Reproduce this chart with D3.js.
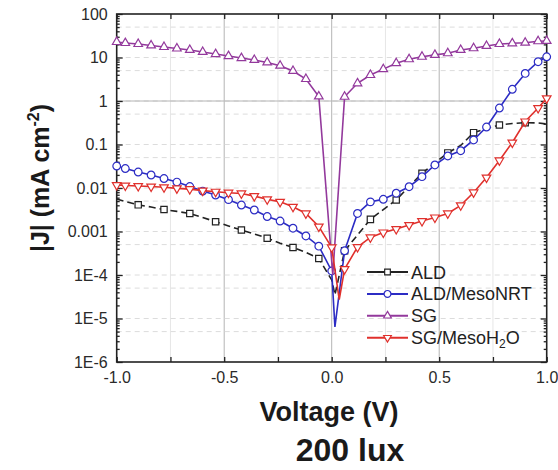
<!DOCTYPE html>
<html>
<head>
<meta charset="utf-8">
<script src="https://cdn.jsdelivr.net/npm/d3@7"></script>
<style>
  body { margin: 0; background: #fff; }
  svg { display: block; font-family: "Liberation Sans", Arial, sans-serif; }
</style>
</head>
<body>
<div id="chart"></div>
<script>
// voltage grid (V) shared by the four curves
const volts = [-1.0, -0.96, -0.90, -0.84, -0.78, -0.72, -0.66, -0.60, -0.54, -0.48, -0.42, -0.36,
  -0.30, -0.24, -0.18, -0.12, -0.06, 0, 0.06, 0.12, 0.18, 0.24, 0.30, 0.36, 0.42, 0.48, 0.54,
  0.60, 0.66, 0.72, 0.78, 0.84, 0.90, 0.96, 1.0];

// |J| in mA cm-2
const aldJ = [5.6e-3, 4.9e-3, 4.1e-3, 3.65e-3, 3.2e-3, 2.9e-3, 2.6e-3, 2.1e-3, 1.68e-3, 1.34e-3, 1.08e-3, 8.8e-4,
  7.0e-4, 5.4e-4, 4.3e-4, 3.3e-4, 2.4e-4, 7.7e-5, 3.6e-4, 8.3e-4, 1.9e-3, 3.2e-3, 5.3e-3, 0.0108, 0.0218, 0.0376, 0.064,
  0.095, 0.187, 0.233, 0.28, 0.304, 0.317, 0.312, 0.296];
const aldNrtJ = [0.032, 0.028, 0.0233, 0.0199, 0.0165, 0.0137, 0.0108, 0.0085, 0.0069, 0.0054, 0.00406, 0.00312,
  0.00221, 0.00174, 0.00119, 7.9e-4, 4.6e-4, 1.24e-4, 3.6e-4, 0.0026, 0.0048, 0.0055, 0.0076, 0.0107, 0.0182, 0.0338, 0.0545,
  0.072, 0.127, 0.252, 0.69, 1.86, 4.3, 8.0, 10.4];
const sgJ = [22.7, 21.5, 20.4, 18.9, 17.4, 16.1, 14.9, 13.4, 12.0, 10.8, 9.7, 8.8,
  7.7, 6.5, 4.9, 3.2, 1.27, null, 1.25, 2.55, 3.96, 5.4, 7.4, 9.1, 10.4, 11.5, 12.5,
  14.9, 16.3, 18.4, 20.4, 21.2, 21.9, 23.6, 24.0];
const sgH2oJ = [0.0117, 0.0114, 0.0111, 0.0108, 0.0104, 0.0098, 0.0094, 0.0087, 0.0082, 0.0078, 0.0075, 0.0065,
  0.0055, 0.0048, 0.0037, 0.0026, 0.0013, 4.3e-4, 1.37e-4, 4.4e-4, 7.3e-4, 9.5e-4, 0.00114, 0.00141, 0.00174, 0.0021, 0.0026,
  0.0040, 0.0079, 0.0174, 0.043, 0.111, 0.338, 0.69, 1.15];

// points at the bottom of each dip (in the line, no marker)
const aldTip = [[0.015, 3.5e-5]];
const aldNrtTip = [[0.015, 6.4e-6]];
const sgTip = [[0.005, 1.0e-4]];
const sgH2oTip = [[0.035, 2.7e-5]];

const seriesNames = ['ALD', 'ALD/MesoNRT', 'SG', 'SG/MesoH2O'];
const xTicks = [-1, -0.75, -0.5, -0.25, 0, 0.25, 0.5, 0.75, 1];
const xTickLabels = ['-1.0', '', '-0.5', '', '0.0', '', '0.5', '', '1.0'];
const yTicks = [1e-6, 1e-5, 1e-4, 1e-3, 1e-2, 0.1, 1, 10, 100];
const yTickLabels = ['1E-6', '1E-5', '1E-4', '0.001', '0.01', '0.1', '1', '10', '100'];

const width = 558;
const height = 470;
const plotL = 116.7, plotR = 546.7, plotT = 14, plotB = 362;

const svg = d3.select('#chart').append('svg')
  .attr('width', width)
  .attr('height', height);

const x = d3.scaleLinear().domain([-1, 1]).range([plotL, plotR]);
const y = d3.scaleLog().domain([1e-6, 100]).range([plotB, plotT]);

// grid
const gridG = svg.append('g').attr('class', 'grid');
[-0.75, -0.25, 0.25, 0.75].forEach((v) => {
  gridG.append('line').attr('x1', x(v)).attr('x2', x(v)).attr('y1', plotT).attr('y2', plotB)
    .attr('stroke', '#e6e6e6').attr('stroke-width', 1);
});
[-0.5, 0, 0.5].forEach((v) => {
  gridG.append('line').attr('x1', x(v)).attr('x2', x(v)).attr('y1', plotT).attr('y2', plotB)
    .attr('stroke', '#b4b4b4').attr('stroke-width', 1);
});
yTicks.forEach((t) => {
  [t, t / 2].forEach((v) => {
    if (v <= 1e-6 || v >= 100) return;
    gridG.append('line').attr('x1', plotL).attr('x2', plotR).attr('y1', y(v)).attr('y2', y(v))
      .attr('stroke', '#dcdcdc').attr('stroke-width', 1).attr('stroke-dasharray', '5,4');
  });
});
gridG.append('line').attr('x1', plotL).attr('x2', plotR).attr('y1', y(1)).attr('y2', y(1))
  .attr('stroke', '#b4b4b4').attr('stroke-width', 1);

// axes
const fmtX = (d) => xTickLabels[xTicks.indexOf(d)];
const fmtY = (d) => yTickLabels[yTicks.indexOf(d)];
const minor = [];
yTicks.slice(0, -1).forEach((t) => { [2, 3, 4, 5, 6, 7, 8, 9].forEach((m) => minor.push(t * m)); });

const styleAxis = (g) => {
  g.select('.domain').remove();
  g.selectAll('.tick line').attr('stroke', '#222').attr('stroke-width', 1.3);
  g.selectAll('.tick text').attr('fill', '#2a2a2a').attr('font-size', 16);
};

svg.append('g').attr('transform', `translate(0,${plotB})`)
  .call(d3.axisBottom(x).tickValues(xTicks).tickSize(-5).tickPadding(10).tickFormat(fmtX))
  .call(styleAxis);
svg.append('g').attr('transform', `translate(0,${plotT})`)
  .call(d3.axisTop(x).tickValues(xTicks).tickSize(-5).tickFormat(''))
  .call(styleAxis);
svg.append('g').attr('transform', `translate(${plotL},0)`)
  .call(d3.axisLeft(y).tickValues(yTicks).tickSize(-6).tickPadding(9).tickFormat(fmtY))
  .call(styleAxis);
svg.append('g').attr('transform', `translate(${plotL},0)`)
  .call(d3.axisLeft(y).tickValues(minor).tickSize(-3).tickFormat(''))
  .call(styleAxis);
svg.append('g').attr('transform', `translate(${plotR},0)`)
  .call(d3.axisRight(y).tickValues(yTicks).tickSize(-6).tickFormat(''))
  .call(styleAxis);
svg.append('g').attr('transform', `translate(${plotR},0)`)
  .call(d3.axisRight(y).tickValues(minor).tickSize(-3).tickFormat(''))
  .call(styleAxis);

svg.append('rect')
  .attr('x', plotL).attr('y', plotT).attr('width', plotR - plotL).attr('height', plotB - plotT)
  .attr('fill', 'none').attr('stroke', '#222').attr('stroke-width', 1.6);

// curves
const series = [
  { name: seriesNames[0], j: aldJ, tip: aldTip, color: '#222222', dash: '7,4', symbol: d3.symbolSquare, size: 40, rot: 0, every: 2 },
  { name: seriesNames[1], j: aldNrtJ, tip: aldNrtTip, color: '#2c2cc4', dash: null, symbol: d3.symbolCircle, size: 46, rot: 0, every: 1 },
  { name: seriesNames[2], j: sgJ, tip: sgTip, color: '#93399c', dash: null, symbol: d3.symbolTriangle, size: 32, rot: 0, every: 1 },
  { name: seriesNames[3], j: sgH2oJ, tip: sgH2oTip, color: '#e0302c', dash: null, symbol: d3.symbolTriangle, size: 32, rot: 180, every: 1 }
];

const line = d3.line().x((d) => x(d.v)).y((d) => y(d.j));

series.forEach((s) => {
  const onGrid = volts.map((v, i) => ({ v: v, j: s.j[i], i: i })).filter((d) => d.j != null);
  const pts = onGrid.concat(s.tip.map((t) => ({ v: t[0], j: t[1], i: -1 })))
    .sort((a, b) => a.v - b.v);
  const g = svg.append('g').attr('class', 'series');
  g.append('path')
    .attr('d', line(pts))
    .attr('fill', 'none')
    .attr('stroke', s.color)
    .attr('stroke-width', 1.6)
    .attr('stroke-dasharray', s.dash);
  const marks = onGrid.filter((d) => s.every === 1 || (d.i % 2 === 0 && d.i > 0 && d.i < volts.length - 1));
  g.selectAll('path.mark').data(marks).enter().append('path')
    .attr('class', 'mark')
    .attr('d', d3.symbol().type(s.symbol).size(s.size))
    .attr('transform', (d) => `translate(${x(d.v)},${y(d.j)}) rotate(${s.rot})`)
    .attr('fill', '#fff')
    .attr('stroke', s.color)
    .attr('stroke-width', 1.2);
});

// legend
const legend = svg.append('g').attr('class', 'legend');
series.forEach((s, k) => {
  const cy = 272 + k * 21.9;
  legend.append('line').attr('x1', 367).attr('x2', 408).attr('y1', cy).attr('y2', cy)
    .attr('stroke', s.color).attr('stroke-width', 2);
  legend.append('path')
    .attr('d', d3.symbol().type(s.symbol).size(s.size * 0.8))
    .attr('transform', `translate(387.5,${cy}) rotate(${s.rot})`)
    .attr('fill', '#fff').attr('stroke', s.color).attr('stroke-width', 1.2);
  const t = legend.append('text').attr('x', 411).attr('y', cy + 6.5)
    .attr('font-size', 18).attr('fill', '#222');
  if (s.name === 'SG/MesoH2O') {
    t.append('tspan').text('SG/MesoH');
    t.append('tspan').attr('font-size', 12).attr('dy', 4).text('2');
    t.append('tspan').attr('dy', -4).text('O');
  } else {
    t.text(s.name);
  }
});

// axis titles
const yl = svg.append('text')
  .attr('transform', 'translate(49,178) rotate(-90)')
  .attr('text-anchor', 'middle')
  .attr('font-size', 25).attr('font-weight', 'bold').attr('fill', '#1a1a1a');
yl.append('tspan').text('|J| (mA cm');
yl.append('tspan').attr('font-size', 16).attr('dy', -10).text('-2');
yl.append('tspan').attr('dy', 10).text(')');

svg.append('text').attr('x', 329).attr('y', 421)
  .attr('text-anchor', 'middle').attr('font-size', 27).attr('font-weight', 'bold').attr('fill', '#1a1a1a')
  .text('Voltage (V)');

svg.append('text').attr('x', 350).attr('y', 461)
  .attr('text-anchor', 'middle').attr('font-size', 32).attr('font-weight', 'bold').attr('fill', '#1a1a1a')
  .text('200 lux');
</script>
</body>
</html>
